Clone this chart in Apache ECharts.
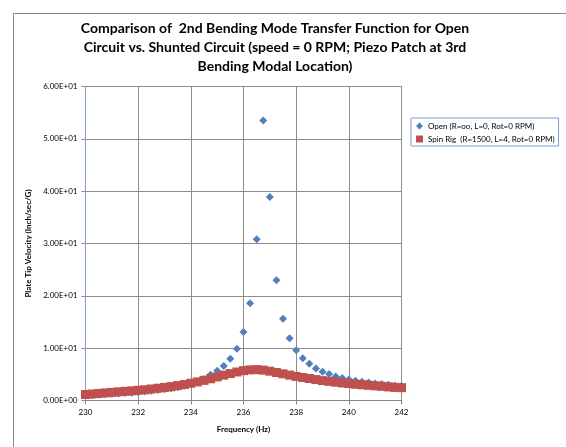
<!DOCTYPE html>
<html><head><meta charset="utf-8">
<script src="https://cdn.jsdelivr.net/npm/echarts@6/dist/echarts.min.js"></script>
<style>html,body{margin:0;padding:0;background:#fff}#c{width:566px;height:447px}</style>
</head><body><div id="c"></div>
<script>
const titleLines = ['Comparison of  2nd Bending Mode Transfer Function for Open', 'Circuit vs. Shunted Circuit (speed = 0 RPM; Piezo Patch at 3rd', 'Bending Modal Location)'];
const xTitle = 'Frequency (Hz)';
const yTitle = 'Plate Tip Velocity (Inch/sec/G)';
const seriesNames = ['Open (R=oo, L=0, Rot=0 RPM)', 'Spin Rig  (R=1500, L=4, Rot=0 RPM)'];
const freq = [230,230.25,230.5,230.75,231,231.25,231.5,231.75,232,232.25,232.5,232.75,233,233.25,233.5,233.75,234,234.25,234.5,234.75,235,235.25,235.5,235.75,236,236.25,236.5,236.75,237,237.25,237.5,237.75,238,238.25,238.5,238.75,239,239.25,239.5,239.75,240,240.25,240.5,240.75,241,241.25,241.5,241.75,242];
const openVals = [0.95,1.0,1.1,1.2,1.25,1.35,1.45,1.5,1.6,1.7,1.85,2.0,2.15,2.3,2.55,2.8,3.1,3.5,4.1,4.9,5.7,6.6,8.0,9.9,13.1,18.6,30.8,53.5,38.9,23.0,15.6,11.9,9.6,8.05,7.0,6.1,5.5,5.05,4.6,4.3,4.0,3.77,3.58,3.45,3.26,3.13,3.0,2.87,2.75];
const spinVals = [1.15,1.25,1.35,1.45,1.55,1.65,1.75,1.85,1.95,2.05,2.2,2.35,2.5,2.65,2.85,3.05,3.3,3.55,3.85,4.15,4.5,4.85,5.15,5.45,5.7,5.85,5.9,5.8,5.6,5.35,5.1,4.85,4.6,4.4,4.2,4.0,3.8,3.65,3.5,3.35,3.25,3.1,3.0,2.9,2.8,2.7,2.6,2.5,2.45];
const xMin = 230, xMax = 242, xStep = 2;
const yMin = 0, yMax = 60, yStep = 10;

function expFmt(v){
  let s = Number(v).toExponential(2).toUpperCase();
  return s.replace(/E([+-])(\d)$/, 'E$10$2');
}
const FONT = 'Lato, "Open Sans", sans-serif';
const chart = echarts.init(document.getElementById('c'), null, {renderer:'canvas'});
chart.setOption({
  animation:false,
  backgroundColor:'#fff',
  title:{
    text: titleLines.join('\n'),
    left: 270, top: 14, textAlign:'center',
    textStyle:{fontFamily:FONT, fontSize:14, fontWeight:'bold', color:'#000', lineHeight:19}
  },
  graphic:[{type:'rect', shape:{x:13.5,y:13.5,width:600,height:500}, style:{fill:'none', stroke:'#8a8a8a', lineWidth:1}, silent:true, z:-1}],
  legend:{
    orient:'vertical', left:411, top:118, width:145,
    backgroundColor:'#fff', borderColor:'#7f9fd0', borderWidth:1, borderRadius:0,
    padding:[4,4,3,5], itemGap:5, itemWidth:7, itemHeight:7,
    textStyle:{fontFamily:FONT, fontSize:8, color:'#000'},
    data:[{name:seriesNames[0], icon:'diamond'},{name:seriesNames[1], icon:'rect'}]
  },
  grid:{left:85.5, right:164.5, top:86.5, bottom:46.5, show:true, borderColor:'#7f9fd0', borderWidth:1},
  xAxis:{
    type:'value', min:xMin, max:xMax, interval:xStep,
    name:xTitle, nameLocation:'middle', nameGap:25,
    nameTextStyle:{fontFamily:FONT, fontSize:8, fontWeight:'bold', color:'#000'},
    axisLine:{show:true, lineStyle:{color:'#868686'}},
    axisTick:{show:true, length:4, lineStyle:{color:'#868686'}},
    axisLabel:{fontFamily:FONT, fontSize:8, color:'#000', margin:8},
    splitLine:{show:true, lineStyle:{color:'#8c8c8c', width:1}}
  },
  yAxis:{
    type:'value', min:yMin, max:yMax, interval:yStep,
    name:yTitle, nameLocation:'middle', nameGap:51, nameRotate:90,
    nameTextStyle:{fontFamily:FONT, fontSize:8, fontWeight:'bold', color:'#000'},
    axisLine:{show:true, lineStyle:{color:'#7f9fd0'}},
    axisTick:{show:true, length:4, lineStyle:{color:'#868686'}},
    axisLabel:{fontFamily:FONT, fontSize:8, color:'#000', margin:8, formatter:expFmt},
    splitLine:{show:true, lineStyle:{color:'#8c8c8c', width:1}}
  },
  series:[
    {name:seriesNames[0], type:'scatter', symbol:'diamond', symbolSize:[8,8],
     itemStyle:{color:'#4F81BD', opacity:1}, data:freq.map((f,i)=>[f,openVals[i]]), z:2},
    {name:seriesNames[1], type:'scatter', symbol:'rect', symbolSize:9,
     itemStyle:{color:'#C0504D', opacity:1}, data:freq.map((f,i)=>[f,spinVals[i]]), z:3}
  ]
});
</script></body></html>
